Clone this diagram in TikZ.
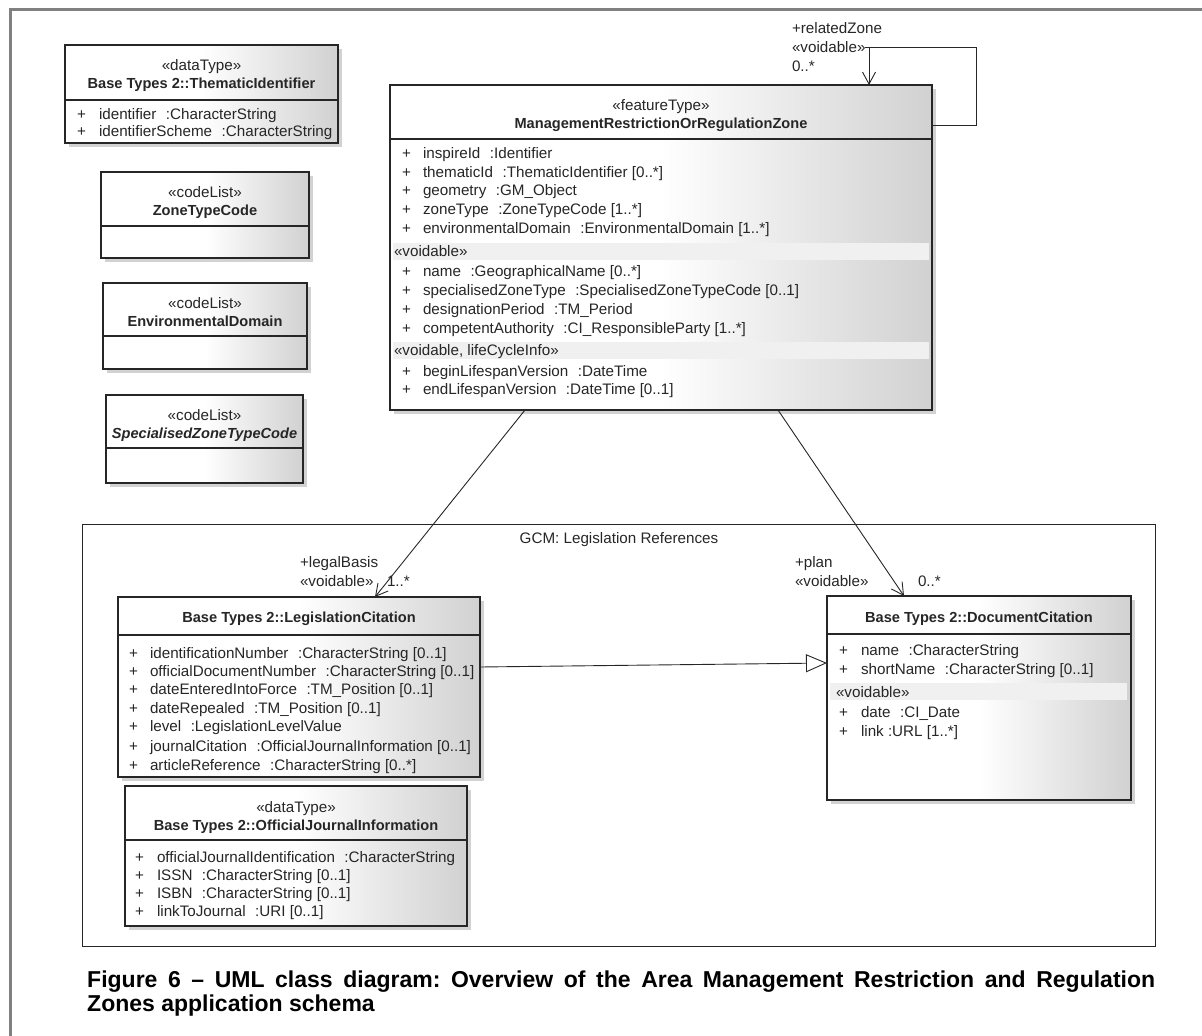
\documentclass[tikz,border=0pt]{standalone}
\usepackage{fontspec}
\setmainfont{Liberation Sans}
\usetikzlibrary{arrows.meta,shadows,calc}
\newcommand\umlfs{\fontsize{15.2}{18}\selectfont}
\newcommand\umlbf{\fontsize{14.6}{17}\selectfont\bfseries}
\newcommand\tg{\hspace{9.5pt}}
\tikzset{
  cls/.style={draw=black!85, line width=1.1pt, inner sep=0pt, outer sep=0pt, anchor=north west,
    left color=white, right color=black!18, middle color=white,
    drop shadow={shadow xshift=4pt, shadow yshift=-4pt, fill=black!35}},
  tl/.style={anchor=base west, inner sep=0pt, outer sep=0pt, font=\umlfs, text=black!85},
  tc/.style={anchor=base, inner sep=0pt, outer sep=0pt, font=\umlfs, text=black!85},
  tb/.style={tc, font=\umlbf},
  divl/.style={draw=black!85, line width=1.1pt},
  band/.style={fill=black!6},
  assoc/.style={draw=black!85, line width=0.9pt, -{Straight Barb[length=12pt,width=13pt,line width=0.9pt]}},
  gen/.style={draw=black!85, line width=0.9pt, -{Triangle[open,length=21pt,width=18pt,line width=0.9pt,fill=white]}},
}
\begin{document}
\begin{tikzpicture}[x=1pt,y=-1pt]
\useasboundingbox (0,0) rectangle (1202,1036);
% outer frame (cropped)
\draw[line width=3pt, color=black!50] (10.5,1036) -- (10.5,9.5) -- (1202,9.5);

% ---------- ThematicIdentifier ----------
\node[cls, minimum width=273pt, minimum height=98pt] (ti) at (65,45) {};
\draw[divl] (65,100) -- (338,100);
\node[tc] (ti-s) at (201.5,70) {«dataType»};
\node[tb] (ti-n) at (201.5,88) {Base Types 2::ThematicIdentifier};
\node[tl] (ti-p1) at (77,119) {+};
\node[tl] (ti-a1) at (99,119) {identifier\tg:CharacterString};
\node[tl] (ti-p2) at (77,136) {+};
\node[tl] (ti-a2) at (99,136) {identifierScheme\tg:CharacterString};

% ---------- code lists ----------
\node[cls, minimum width=208pt, minimum height=86pt] (ztc) at (101,172) {};
\draw[divl] (101,226) -- (309,226);
\node[tc] (ztc-s) at (205,197) {«codeList»};
\node[tb] (ztc-n) at (205,215) {ZoneTypeCode};

\node[cls, minimum width=204pt, minimum height=86pt] (ed) at (103,283) {};
\draw[divl] (103,336) -- (307,336);
\node[tc] (ed-s) at (205,308) {«codeList»};
\node[tb] (ed-n) at (205,326) {EnvironmentalDomain};

\node[cls, minimum width=197pt, minimum height=88pt] (szt) at (106,395) {};
\draw[divl] (106,448) -- (303,448);
\node[tc] (szt-s) at (204.5,420) {«codeList»};
\node[tc, font=\umlbf\itshape] (szt-n) at (204.5,438) {SpecialisedZoneTypeCode};

% ---------- main feature type ----------
\node[cls, minimum width=542pt, minimum height=325pt] (mz) at (390,85) {};
\draw[divl] (390,139) -- (932,139);
\node[tc] (mz-s) at (661,110) {«featureType»};
\node[tb] (mz-n) at (661,128) {ManagementRestrictionOrRegulationZone};
\fill[band] (393,243) rectangle (929,260);
\fill[band] (393,342) rectangle (929,359);
\node[tl] (mz-p1) at (402,158) {+};
\node[tl] (mz-a1) at (423,158) {inspireId\tg:Identifier};
\node[tl] (mz-p2) at (402,177) {+};
\node[tl] (mz-a2) at (423,177) {thematicId\tg:ThematicIdentifier [0..*]};
\node[tl] (mz-p3) at (402,195) {+};
\node[tl] (mz-a3) at (423,195) {geometry\tg:GM\_Object};
\node[tl] (mz-p4) at (402,214) {+};
\node[tl] (mz-a4) at (423,214) {zoneType\tg:ZoneTypeCode [1..*]};
\node[tl] (mz-p5) at (402,233) {+};
\node[tl] (mz-a5) at (423,233) {environmentalDomain\tg:EnvironmentalDomain [1..*]};
\node[tl] (mz-v1) at (394,256) {«voidable»};
\node[tl] (mz-p6) at (402,276) {+};
\node[tl] (mz-a6) at (423,276) {name\tg:GeographicalName [0..*]};
\node[tl] (mz-p7) at (402,295) {+};
\node[tl] (mz-a7) at (423,295) {specialisedZoneType\tg:SpecialisedZoneTypeCode [0..1]};
\node[tl] (mz-p8) at (402,314) {+};
\node[tl] (mz-a8) at (423,314) {designationPeriod\tg:TM\_Period};
\node[tl] (mz-p9) at (402,333) {+};
\node[tl] (mz-a9) at (423,333) {competentAuthority\tg:CI\_ResponsibleParty [1..*]};
\node[tl] (mz-v2) at (394,355) {«voidable, lifeCycleInfo»};
\node[tl] (mz-p10) at (402,376) {+};
\node[tl] (mz-a10) at (423,376) {beginLifespanVersion\tg:DateTime};
\node[tl] (mz-p11) at (402,394) {+};
\node[tl] (mz-a11) at (423,394) {endLifespanVersion\tg:DateTime [0..1]};

% ---------- package ----------
\node[draw=black!85, line width=1pt, inner sep=0pt, outer sep=0pt, anchor=north west,
      minimum width=1073pt, minimum height=422pt] (pkg) at (82,524) {};
\node[tc] (pkg-n) at (619,543) {GCM: Legislation References};

% ---------- LegislationCitation ----------
\node[cls, minimum width=362pt, minimum height=180pt] (lc) at (118,597) {};
\draw[divl] (118,635) -- (480,635);
\node[tb] (lc-n) at (299,622) {Base Types 2::LegislationCitation};
\node[tl] (lc-p1) at (129,658) {+};
\node[tl] (lc-a1) at (150,658) {identificationNumber\tg:CharacterString [0..1]};
\node[tl] (lc-p2) at (129,676) {+};
\node[tl] (lc-a2) at (150,676) {officialDocumentNumber\tg:CharacterString [0..1]};
\node[tl] (lc-p3) at (129,694) {+};
\node[tl] (lc-a3) at (150,694) {dateEnteredIntoForce\tg:TM\_Position [0..1]};
\node[tl] (lc-p4) at (129,713) {+};
\node[tl] (lc-a4) at (150,713) {dateRepealed\tg:TM\_Position [0..1]};
\node[tl] (lc-p5) at (129,731) {+};
\node[tl] (lc-a5) at (150,731) {level\tg:LegislationLevelValue};
\node[tl] (lc-p6) at (129,751) {+};
\node[tl] (lc-a6) at (150,751) {journalCitation\tg:OfficialJournalInformation [0..1]};
\node[tl] (lc-p7) at (129,770) {+};
\node[tl] (lc-a7) at (150,770) {articleReference\tg:CharacterString [0..*]};

% ---------- OfficialJournalInformation ----------
\node[cls, minimum width=342pt, minimum height=140pt] (oji) at (125,786) {};
\draw[divl] (125,840) -- (467,840);
\node[tc] (oji-s) at (296,812) {«dataType»};
\node[tb] (oji-n) at (296,830) {Base Types 2::OfficialJournalInformation};
\node[tl] (oji-p1) at (135,862) {+};
\node[tl] (oji-a1) at (157,862) {officialJournalIdentification\tg:CharacterString};
\node[tl] (oji-p2) at (135,880) {+};
\node[tl] (oji-a2) at (157,880) {ISSN\tg:CharacterString [0..1]};
\node[tl] (oji-p3) at (135,898) {+};
\node[tl] (oji-a3) at (157,898) {ISBN\tg:CharacterString [0..1]};
\node[tl] (oji-p4) at (135,916) {+};
\node[tl] (oji-a4) at (157,916) {linkToJournal\tg:URI [0..1]};

% ---------- DocumentCitation ----------
\node[cls, minimum width=304pt, minimum height=204pt] (dc) at (827,596) {};
\draw[divl] (827,634) -- (1131,634);
\node[tb] (dc-n) at (979,622) {Base Types 2::DocumentCitation};
\fill[band] (830,683) rectangle (1127,700);
\node[tl] (dc-p1) at (839,655) {+};
\node[tl] (dc-a1) at (861,655) {name\tg:CharacterString};
\node[tl] (dc-p2) at (839,674) {+};
\node[tl] (dc-a2) at (861,674) {shortName\tg:CharacterString [0..1]};
\node[tl] (dc-v1) at (836,697) {«voidable»};
\node[tl] (dc-p3) at (839,717) {+};
\node[tl] (dc-a3) at (861,717) {date\tg:CI\_Date};
\node[tl] (dc-p4) at (839,736) {+};
\node[tl] (dc-a4) at (861,736) {link~:URL [1..*]};

% ---------- connectors ----------
\coordinate (mzR) at ($(mz.north east)+(0,40)$);
\coordinate (mzT) at ($(mz.north west)+(479,0)$);
\coordinate (selfA) at (976,125);
\coordinate (selfB) at (976,47);
\coordinate (selfC) at (869,47);
\coordinate (selfS) at (865,47);
\draw[draw=black!85, line width=0.9pt] (mzR) -- (selfA) -- (selfB) -- (selfS);
\draw[assoc] (selfC) -- (mzT);
\node[tl] (rz1) at (792,33) {+relatedZone};
\node[tl] (rz2) at (792,52) {«voidable»};
\node[tl] (rz3) at (792,71) {0..*};

\coordinate (mzB1) at ($(mz.south west)+(135,0)$);
\coordinate (lcT) at ($(lc.north west)+(257,0)$);
\draw[assoc] (mzB1) -- (lcT);
\node[tl] (lb1) at (300,567) {+legalBasis};
\node[tl] (lb2) at (300,586) {«voidable»};
\node[tl] (lb3) at (387,586) {1..*};

\coordinate (mzB2) at ($(mz.south west)+(388,0)$);
\coordinate (dcT) at ($(dc.north west)+(77,0)$);
\draw[assoc] (mzB2) -- (dcT);
\node[tl] (pl1) at (795,567) {+plan};
\node[tl] (pl2) at (795,586) {«voidable»};
\node[tl] (pl3) at (918,586) {0..*};

\coordinate (lcR) at ($(lc.north east)+(0,70)$);
\coordinate (dcL) at ($(dc.north west)+(0,67)$);
\draw[gen] (lcR) -- (dcL);

% ---------- caption ----------
\node[anchor=base west, inner sep=0pt, font=\fontsize{23}{26}\selectfont\bfseries\frenchspacing] (cap1) at (87,987)
  {\makebox[1068pt][s]{Figure 6 – UML class diagram: Overview of the Area Management Restriction and Regulation}};
\node[anchor=base west, inner sep=0pt, font=\fontsize{23}{26}\selectfont\bfseries] (cap2) at (87,1011)
  {Zones application schema};
\end{tikzpicture}
\end{document}
